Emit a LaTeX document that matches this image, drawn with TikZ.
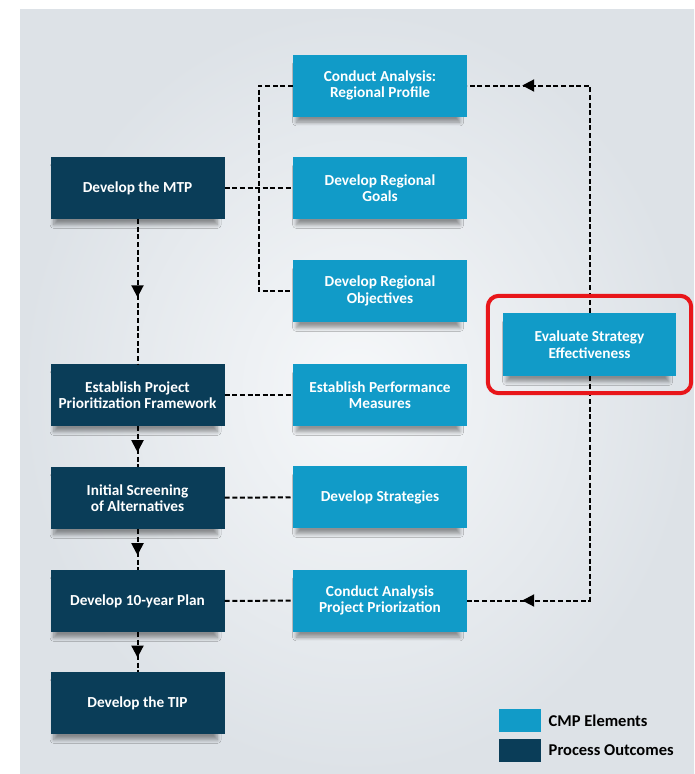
\documentclass[tikz,border=0pt]{standalone}
\usepackage{fontspec}
\setmainfont{Carlito}
\usepackage{tikz}
\usetikzlibrary{arrows.meta,fit,positioning,shadows.blur,decorations.markings}
\definecolor{cmlight}{RGB}{17,155,200}
\definecolor{cmdark}{RGB}{10,61,88}
\definecolor{cmred}{RGB}{232,22,26}
\definecolor{cmbgin}{RGB}{246,248,250}
\definecolor{cmbgout}{RGB}{221,226,231}
\tikzset{
  cmelem/.style={fill=cmlight, text=white, align=center, minimum width=174pt, minimum height=62pt, inner sep=2pt, font=\fontsize{15.3}{16.5}\selectfont\bfseries, blur shadow={shadow xshift=-2pt, shadow yshift=-8pt, shadow scale=0.94, shadow blur steps=8, shadow blur radius=4pt}},
  cmout/.style={cmelem, fill=cmdark},
  cmdash/.style={draw=black, line width=2pt, dash pattern=on 5pt off 2.6pt},
  cmmid/.style={cmdash, postaction={decorate}, decoration={markings, mark=at position #1 with {\arrow{Triangle[length=12pt,width=12pt]}}}},
  cmkey/.style={minimum width=42pt, minimum height=23pt, inner sep=0pt},
  cmframe/.style={draw=cmred, line width=4pt, rounded corners=11pt, inner xsep=15pt, inner ysep=17pt}
}
\begin{document}
\begin{tikzpicture}[x=1pt, y=-1pt]
  \useasboundingbox (0,0) rectangle (694,774);
  \fill[inner color=cmbgin, outer color=cmbgout] (20,9) rectangle (694,774);
  % process outcomes
  \node[cmout] (mtp) at (137.5,188) {Develop the MTP};
  \node[cmout] (framework) at (137.5,395) {Establish Project\\Prioritization Framework};
  \node[cmout] (screening) at (137.5,498) {Initial Screening\\of Alternatives};
  \node[cmout] (tenyear) at (137.5,601) {Develop 10-year Plan};
  \node[cmout] (tip) at (137.5,703) {Develop the TIP};
  % cmp elements
  \node[cmelem] (profile) at (380,85.5) {Conduct Analysis:\\Regional Profile};
  \node[cmelem] (goals) at (380,188) {Develop Regional\\Goals};
  \node[cmelem] (objectives) at (380,291) {Develop Regional\\Objectives};
  \node[cmelem] (measures) at (380,395) {Establish Performance\\Measures};
  \node[cmelem] (strategies) at (380,497) {Develop Strategies};
  \node[cmelem] (projanalysis) at (380,600.5) {Conduct Analysis\\Project Priorization};
  \node[cmelem, minimum width=173pt, minimum height=63pt] (evaluate) at (589.5,344.5) {Evaluate Strategy\\Effectiveness};
  % links
  \draw[cmdash] (profile.west) -- ++(-34,0) |- (objectives.west);
  \draw[cmdash] (mtp) -- (goals);
  \draw[cmdash] (framework) -- (measures);
  \draw[cmdash] (screening) -- (strategies);
  \draw[cmdash] (tenyear) -- (projanalysis);
  \draw[cmmid=0.54] (mtp) -- (framework);
  \draw[cmmid=0.64] (framework) -- (screening);
  \draw[cmmid=0.64] (screening) -- (tenyear);
  \draw[cmmid=0.64] (tenyear) -- (tip);
  \draw[cmmid=-55pt] (evaluate.north) |- (profile.east);
  \draw[cmmid=-55pt] (evaluate.south) |- (projanalysis.east);
  \node[cmframe, fit=(evaluate)] (frame) {};
  % legend
  \node[cmkey, fill=cmlight] (keyelem) at (520,720.5) {};
  \node[cmkey, fill=cmdark] (keyout) at (520,750.5) {};
  \node[right=4pt of keyelem, font=\fontsize{16.5}{18}\selectfont\bfseries] (elemtext) {CMP Elements};
  \node[right=4pt of keyout, font=\fontsize{16.5}{18}\selectfont\bfseries] (outtext) {Process Outcomes};
\end{tikzpicture}
\end{document}
